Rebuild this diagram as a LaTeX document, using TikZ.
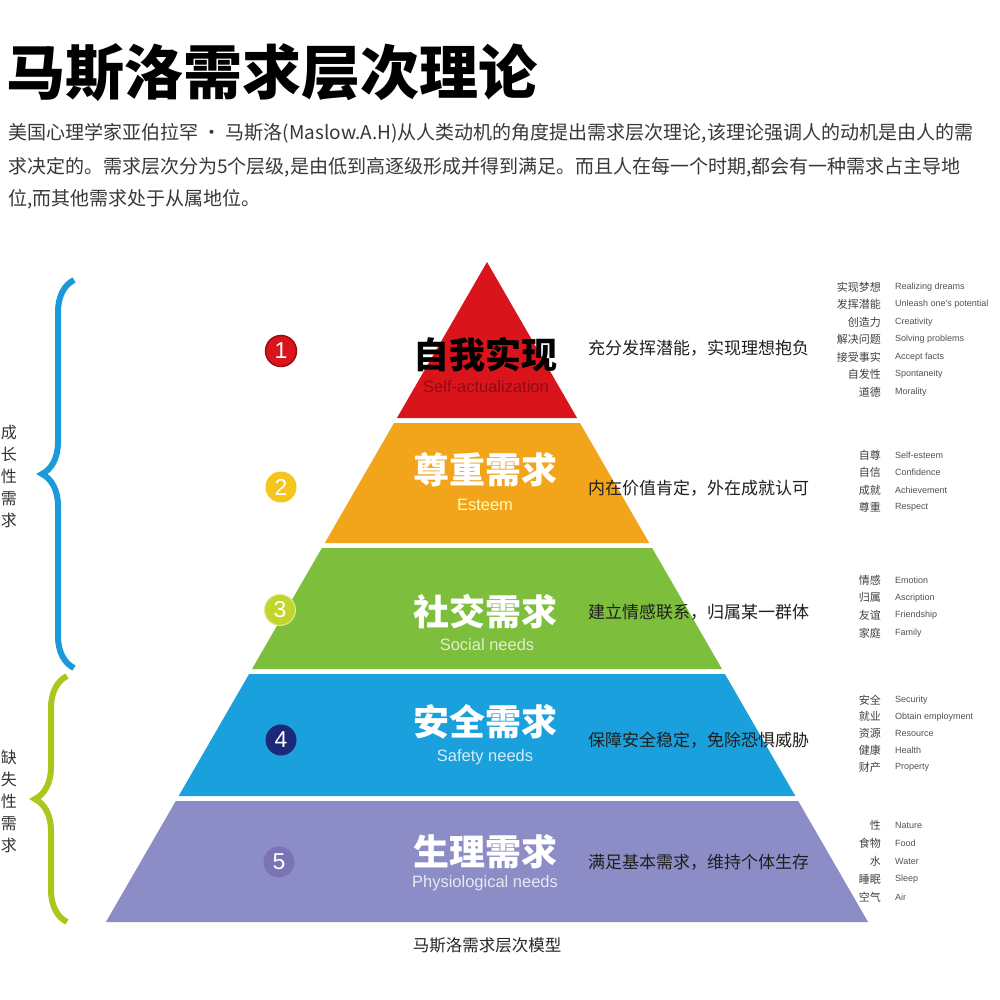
\documentclass[tikz,border=0pt]{standalone}
\usepackage{fontspec}
\setmainfont{Noto Sans CJK SC}
\newfontfamily\latin{Liberation Sans}
\usetikzlibrary{decorations.pathreplacing}
\definecolor{tred}{HTML}{D9141B}
\definecolor{torange}{HTML}{F2A51A}
\definecolor{tgreen}{HTML}{7DBE3C}
\definecolor{tblue}{HTML}{1AA0DC}
\definecolor{tpurple}{HTML}{8C8CC6}
\definecolor{cyellow}{HTML}{F4C51A}
\definecolor{clime}{HTML}{C2D52C}
\definecolor{cnavy}{HTML}{1C2878}
\definecolor{cviolet}{HTML}{7A74B4}
\definecolor{bblue}{HTML}{1B9AD9}
\definecolor{bgreen}{HTML}{A9C81E}
\newcommand{\traits}[4] {
    \foreach \cn/\word [count=\i] in {#4} {
        \node[zh] (#1z\i) at (881, {#2+#3*(\i-1)}) {\cn};
        \node[en] (#1e\i) at (895, {#2+#3*(\i-1)}) {\word};
    }
}
\tikzset{
    tiername/.style={inner sep=0, font=\fontsize{36}{40}\selectfont\bfseries, text=white},
    tieren/.style={inner sep=0, font=\latin\fontsize{16.5}{18}\selectfont},
    num/.style={circle, minimum size=31pt, inner sep=0, text=white,
        font=\latin\fontsize{23}{23}\selectfont},
    desc/.style={anchor=west, inner sep=0, font=\fontsize{17}{20}\selectfont, text=black!88},
    zh/.style={anchor=east, inner sep=0, font=\fontsize{11}{12}\selectfont, text=black!75},
    en/.style={anchor=west, inner sep=0, font=\latin\fontsize{9}{10}\selectfont, text=black!68},
    para/.style={anchor=west, inner sep=0, font=\fontsize{19}{22}\selectfont, text=black!78},
    side/.style={inner sep=0, align=center, font=\fontsize{16}{22}\selectfont, text=black!80},
    curly/.style={decorate, decoration={brace, amplitude=32pt}, line width=6pt}
}
\begin{document}
\begin{tikzpicture}[x=1pt, y=-1pt]
    \useasboundingbox (0,0) rectangle (1000,1000);
    \fill[white] (0,0) rectangle (1000,1000);
    % heading
    \node[anchor=west, inner sep=0, font=\fontsize{59}{62}\selectfont\bfseries] (head) at (6,73) {马斯洛需求层次理论};
    \node[para] (l1) at (8,133) {美国心理学家亚伯拉罕 · 马斯洛(Maslow.A.H)从人类动机的角度提出需求层次理论,该理论强调人的动机是由人的需};
    \node[para] (l2) at (8,167) {求决定的。需求层次分为5个层级,是由低到高逐级形成并得到满足。而且人在每一个时期,都会有一种需求占主导地};
    \node[para] (l3) at (8,199) {位,而其他需求处于从属地位。};
    % pyramid
    \foreach \ya/\yb/\col in {262/418/tred, 423/543/torange, 548/669/tgreen, 674/796/tblue, 801/922/tpurple}
        \fill[\col] ({487-(\ya-262)*0.5774},\ya) -- ({487+(\ya-262)*0.5774},\ya)
            -- ({487+(\yb-262)*0.5774},\yb) -- ({487-(\yb-262)*0.5774},\yb) -- cycle;
    \node[tiername, text=black] (t1) at (485,355) {自我实现};
    \node[tieren, text=tred!65!black] (e1) at (486,387) {Self-actualization};
    \node[tiername] (t2) at (485,470) {尊重需求};
    \node[tieren, text=yellow!30] (e2) at (485,505) {Esteem};
    \node[tiername] (t3) at (485,612) {社交需求};
    \node[tieren, text=tgreen!25] (e3) at (487,645) {Social needs};
    \node[tiername] (t4) at (485,722) {安全需求};
    \node[tieren, text=tblue!20] (e4) at (485,757) {Safety needs};
    \node[tiername] (t5) at (485,852) {生理需求};
    \node[tieren, text=tpurple!20] (e5) at (485,883) {Physiological needs};
    % numbers
    \node[num, fill=tred, draw=tred!70!black, line width=1.5pt] (n1) at (281,351) {1};
    \node[num, fill=cyellow] (n2) at (281,487) {2};
    \node[num, fill=clime, draw=clime!50!white, line width=1pt] (n3) at (280,610) {3};
    \node[num, fill=cnavy] (n4) at (281,740) {4};
    \node[num, fill=cviolet] (n5) at (279,862) {5};
    % descriptions
    \node[desc] (d1) at (588,348) {充分发挥潜能，实现理想抱负};
    \node[desc] (d2) at (588,488) {内在价值肯定，外在成就认可};
    \node[desc] (d3) at (588,612) {建立情感联系，归属某一群体};
    \node[desc] (d4) at (588,740) {保障安全稳定，免除恐惧威胁};
    \node[desc] (d5) at (588,862) {满足基本需求，维持个体生存};
    % trait lists
    \traits{a}{287}{17.5}{实现梦想/Realizing dreams, 发挥潜能/Unleash one's potential,
        创造力/Creativity, 解决问题/Solving problems, 接受事实/Accept facts,
        自发性/Spontaneity, 道德/Morality}
    \traits{b}{455}{17.5}{自尊/Self-esteem, 自信/Confidence, 成就/Achievement, 尊重/Respect}
    \traits{c}{580}{17.7}{情感/Emotion, 归属/Ascription, 友谊/Friendship, 家庭/Family}
    \traits{d}{700}{16.8}{安全/Security, 就业/Obtain employment, 资源/Resource,
        健康/Health, 财产/Property}
    \traits{e}{825}{18}{性/Nature, 食物/Food, 水/Water, 睡眠/Sleep, 空气/Air}
    % braces
    \coordinate (g1) at (74,668);
    \coordinate (g2) at (74,280);
    \coordinate (k1) at (67,922);
    \coordinate (k2) at (67,676);
    \draw[curly, bblue] (g1) -- (g2);
    \draw[curly, bgreen] (k1) -- (k2);
    \node[side] (s1) at (9,476) {成\\长\\性\\需\\求};
    \node[side] (s2) at (9,801) {缺\\失\\性\\需\\求};
    % caption
    \node[inner sep=0, font=\fontsize{16.5}{18}\selectfont, text=black!85] (cap) at (487,945) {马斯洛需求层次模型};
\end{tikzpicture}
\end{document}
